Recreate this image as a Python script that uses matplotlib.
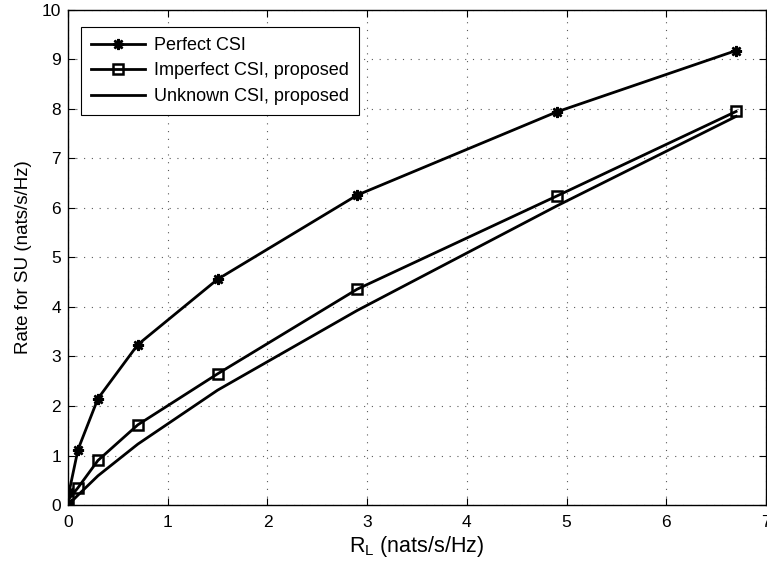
import numpy as np
import matplotlib
matplotlib.use("Agg")
import matplotlib.pyplot as plt

plt.rcParams["font.family"] = ["Liberation Sans", "DejaVu Sans"]

# data
rl = [0.0, 0.1, 0.3, 0.7, 1.5, 2.9, 4.9, 6.7]
perfect_x = [0.0, 0.01, 0.1, 0.3, 0.7, 1.5, 2.9, 4.9, 6.7]
perfect = [0.05, 0.26, 1.12, 2.15, 3.24, 4.56, 6.26, 7.94, 9.18]
imperfect = [0.1, 0.35, 0.9, 1.62, 2.65, 4.36, 6.24, 7.95]
unknown = [0.0, 0.2, 0.59, 1.23, 2.32, 3.93, 6.04, 7.85]

fig = plt.figure(figsize=(7.67, 5.64), dpi=100)
ax = fig.add_axes([0.0887, 0.1046, 0.910, 0.8777])

ax.plot(perfect_x, perfect, color="black", lw=2, marker=(8, 2, 0), ms=8,
        mew=1.8, label="Perfect CSI")
ax.plot(rl, imperfect, color="black", lw=2, marker="s", ms=7.5, mfc="none",
        mew=1.8, label="Imperfect CSI, proposed")
ax.plot(rl, unknown, color="black", lw=2, label="Unknown CSI, proposed")

ax.set_xlim(0, 7)
ax.set_ylim(0, 10)
ax.set_xticks(range(0, 8))
ax.set_yticks(range(0, 11))
ax.grid(True, linestyle=(0, (1, 6)), color="0.35", linewidth=0.8)
ax.tick_params(direction="in", top=True, right=True, labelsize=12.5, length=5)
ax.tick_params(axis="x", pad=7)
ax.tick_params(axis="y", pad=5)
for s in ax.spines.values():
    s.set_linewidth(1.0)

ax.set_xlabel("R$_\\mathregular{L}$ (nats/s/Hz)", fontsize=15.5, labelpad=3)
ax.set_ylabel("Rate for SU (nats/s/Hz)", fontsize=13.5, labelpad=7)

leg = ax.legend(loc="upper left", bbox_to_anchor=(13 / 698, 1 - 17 / 495),
                fontsize=13, fancybox=False, framealpha=1,
                edgecolor="black", borderaxespad=0, handlelength=3,
                labelspacing=0.47, borderpad=0.55, handletextpad=0.5)
leg.get_frame().set_linewidth(0.8)

fig.savefig("out.png", dpi=100)
